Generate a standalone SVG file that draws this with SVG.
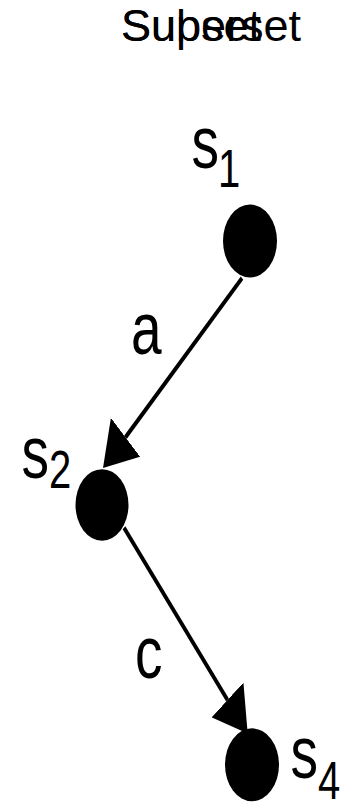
<svg xmlns="http://www.w3.org/2000/svg" width="349" height="803" viewBox="0 0 349 803">
<defs>
<style>
.t{font-family:"Liberation Sans",Arial,sans-serif;fill:#000}
.title{font-size:45px}
.lbl{font-size:55px}
.sub{font-size:40px}
.node{fill:#000}
.edge{stroke:#000;stroke-width:3.5;fill:none}
</style>
<marker id="arr" markerUnits="userSpaceOnUse" viewBox="0 0 32 41" refX="0" refY="20.5" markerWidth="32" markerHeight="41" orient="auto">
<path d="M0,0 L32,20.5 L0,41 z" fill="#000"/>
</marker>
</defs>
<rect width="349" height="803" fill="#fff"/>
<g id="title">
<text class="t title" x="121" y="41">Subset</text>
<text class="t title" x="121" y="41">Superset</text>
</g>
<g id="body" transform="scale(1,1.35)">
<g id="connectors">
<line class="edge" x1="242" y1="206" x2="125.5" y2="323.9" marker-end="url(#arr)"/>
<line class="edge" x1="124" y1="391" x2="227.5" y2="518.5" marker-end="url(#arr)"/>
<text class="t lbl" x="131" y="262">a</text>
<text class="t lbl" x="135" y="502">c</text>
</g>
<g id="s1">
<circle class="node" cx="250" cy="178.5" r="27"/>
<text class="t lbl" x="191.5" y="124.4">s</text>
<text class="t sub" x="218" y="138.5">1</text>
</g>
<g id="s2">
<circle class="node" cx="102" cy="374" r="26.5"/>
<text class="t lbl" x="21.5" y="354">s</text>
<text class="t sub" x="49" y="361.5">2</text>
</g>
<g id="s4">
<circle class="node" cx="252" cy="566.5" r="27"/>
<text class="t lbl" x="290.5" y="576">s</text>
<text class="t sub" x="318" y="591.5">4</text>
</g>
</g>
</svg>
